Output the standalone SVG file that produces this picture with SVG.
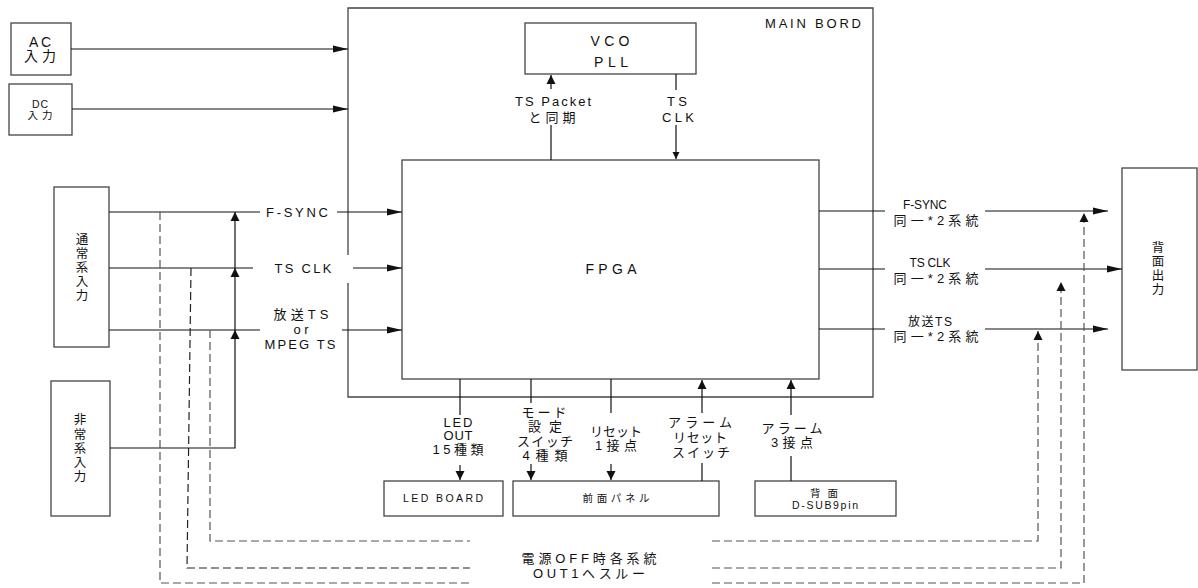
<svg xmlns="http://www.w3.org/2000/svg" width="1198" height="588" viewBox="0 0 1198 588">
<style>
text{font-family:"Liberation Sans","Noto Sans CJK JP",sans-serif;font-size:13px;fill:#111;text-anchor:middle;dominant-baseline:central}
.s{font-size:10.5px}
.m{font-size:14px}
.v{font-size:12.5px}
.r{font-size:12px}
.box{fill:#fff;stroke:#444;stroke-width:1.3}
.ln{fill:none;stroke:#111;stroke-width:1.2}
.ds{fill:none;stroke:#555;stroke-width:1.2;stroke-dasharray:8 4}
</style>
<defs>
<marker id="ah" markerUnits="userSpaceOnUse" markerWidth="15" markerHeight="8" refX="15" refY="4" orient="auto"><path d="M0,0.5 L15,4 L0,7.5 z" fill="#111"/></marker>
<marker id="av" markerUnits="userSpaceOnUse" markerWidth="10" markerHeight="10" refX="9" refY="5" orient="auto"><path d="M0,0.5 L9,5 L0,9.5 z" fill="#111"/></marker>
<marker id="as" markerUnits="userSpaceOnUse" markerWidth="8" markerHeight="8" refX="7" refY="4" orient="auto"><path d="M0,0.5 L7,4 L0,7.5 z" fill="#111"/></marker>
</defs>

<g id="main-board">
<path class="box" d="M348,255 V8 H873 V397 H348 V283" fill="#fff"/>
<text x="813" y="23" textLength="96" lengthAdjust="spacing">MAIN  BORD</text>
</g>

<g id="ac-input">
<rect class="box" x="11" y="23" width="60" height="52"/>
<text class="m" x="40" y="42" textLength="22" lengthAdjust="spacing">AC</text>
<text class="m" x="40" y="56" textLength="32" lengthAdjust="spacing">入力</text>
</g>
<g id="dc-input">
<rect class="box" x="9" y="84" width="63" height="51"/>
<text class="s" x="40" y="104" textLength="16" lengthAdjust="spacing">DC</text>
<text class="s" x="40" y="115" textLength="25" lengthAdjust="spacing">入力</text>
</g>

<g id="vco-pll">
<rect class="box" x="525" y="23" width="171" height="51"/>
<text class="m" x="610" y="41" textLength="39" lengthAdjust="spacing">VCO</text>
<text class="m" x="611" y="62" textLength="34" lengthAdjust="spacing">PLL</text>
</g>

<g id="fpga">
<rect class="box" x="402" y="160" width="417" height="219"/>
<text class="m" x="611" y="269" textLength="51" lengthAdjust="spacing">FPGA</text>
</g>

<g id="normal-input">
<rect class="box" x="54" y="187" width="55" height="160"/>
<text class="v" x="82" y="240">通</text>
<text class="v" x="82" y="254">常</text>
<text class="v" x="82" y="268">系</text>
<text class="v" x="82" y="282">入</text>
<text class="v" x="82" y="296">力</text>
</g>

<g id="emergency-input">
<rect class="box" x="51" y="381" width="59" height="135"/>
<text class="v" x="80" y="420">非</text>
<text class="v" x="80" y="435">常</text>
<text class="v" x="80" y="449">系</text>
<text class="v" x="80" y="463">入</text>
<text class="v" x="80" y="477">力</text>
</g>

<g id="rear-output">
<rect class="box" x="1122" y="168" width="75" height="202"/>
<text class="v" x="1158" y="248">背</text>
<text class="v" x="1158" y="262">面</text>
<text class="v" x="1158" y="276">出</text>
<text class="v" x="1158" y="290">力</text>
</g>

<g id="led-board">
<rect class="box" x="384" y="481" width="119" height="35"/>
<text class="s" x="443" y="498" textLength="80" lengthAdjust="spacing">LED  BOARD</text>
</g>
<g id="front-panel">
<rect class="box" x="513" y="481" width="206" height="35"/>
<text class="s" x="616" y="498" textLength="67" lengthAdjust="spacing">前面パネル</text>
</g>
<g id="rear-dsub">
<rect class="box" x="755" y="481" width="141" height="35"/>
<text class="s" x="824" y="493" textLength="28" lengthAdjust="spacing">背面</text>
<text class="s" x="825" y="505" textLength="66" lengthAdjust="spacing">D-SUB9pin</text>
</g>

<g id="connectors">
<line class="ln" x1="71" y1="49" x2="348" y2="49" marker-end="url(#ah)"/>
<line class="ln" x1="72" y1="109" x2="348" y2="109" marker-end="url(#ah)"/>
<line class="ln" x1="551" y1="160" x2="551" y2="125"/>
<line class="ln" x1="551" y1="89" x2="551" y2="75" marker-end="url(#av)"/>
<line class="ln" x1="676" y1="74" x2="676" y2="90"/>
<line class="ln" x1="676" y1="125" x2="676" y2="159" marker-end="url(#as)"/>
<line class="ln" x1="109" y1="212" x2="260" y2="212"/>
<line class="ln" x1="337" y1="212" x2="402" y2="212" marker-end="url(#ah)"/>
<line class="ln" x1="109" y1="268" x2="253" y2="268"/>
<line class="ln" x1="353" y1="268" x2="402" y2="268" marker-end="url(#ah)"/>
<line class="ln" x1="109" y1="330" x2="260" y2="330"/>
<line class="ln" x1="342" y1="330" x2="402" y2="330" marker-end="url(#ah)"/>
<polyline class="ln" points="110,448 235,448 235,330" marker-end="url(#av)"/>
<line class="ln" x1="235" y1="330" x2="235" y2="268" marker-end="url(#av)"/>
<line class="ln" x1="235" y1="268" x2="235" y2="212" marker-end="url(#av)"/>
<line class="ln" x1="819" y1="211" x2="885" y2="211"/>
<line class="ln" x1="985" y1="211" x2="1108" y2="211" marker-end="url(#ah)"/>
<line class="ln" x1="819" y1="269" x2="885" y2="269"/>
<line class="ln" x1="985" y1="269" x2="1122" y2="269" marker-end="url(#ah)"/>
<line class="ln" x1="819" y1="329" x2="885" y2="329"/>
<line class="ln" x1="985" y1="329" x2="1108" y2="329" marker-end="url(#ah)"/>
<line class="ln" x1="460" y1="379" x2="460" y2="415"/>
<line class="ln" x1="460" y1="465" x2="460" y2="480" marker-end="url(#av)"/>
<line class="ln" x1="531" y1="379" x2="531" y2="403"/>
<line class="ln" x1="531" y1="464" x2="531" y2="480" marker-end="url(#av)"/>
<line class="ln" x1="611" y1="379" x2="611" y2="413"/>
<line class="ln" x1="611" y1="464" x2="611" y2="480" marker-end="url(#av)"/>
<line class="ln" x1="702" y1="481" x2="702" y2="463"/>
<line class="ln" x1="702" y1="413" x2="702" y2="380" marker-end="url(#av)"/>
<line class="ln" x1="791" y1="481" x2="791" y2="456"/>
<line class="ln" x1="791" y1="415" x2="791" y2="380" marker-end="url(#av)"/>
<polyline class="ds" points="160,212 160,583 470,583"/>
<polyline class="ds" points="191,268 187,568 470,568" style="stroke:#222"/>
<polyline class="ds" points="210,330 210,541 470,541"/>
<polyline class="ds" points="712,541 1038,541 1038,331" marker-end="url(#av)"/>
<polyline class="ds" points="712,568 1061,568 1061,282" marker-end="url(#av)"/>
<polyline class="ds" points="712,583 1084,583 1084,213" marker-end="url(#av)"/>
</g>

<g id="labels">
<text x="553" y="101" textLength="76" lengthAdjust="spacing">TS Packet</text>
<text x="552" y="117" textLength="47" lengthAdjust="spacing">と同期</text>
<text x="677" y="101" textLength="20" lengthAdjust="spacing">TS</text>
<text x="678" y="117" textLength="32" lengthAdjust="spacing">CLK</text>
<text x="297" y="212" textLength="62" lengthAdjust="spacing">F-SYNC</text>
<text x="303" y="268" textLength="57" lengthAdjust="spacing">TS CLK</text>
<text x="301" y="314" textLength="55" lengthAdjust="spacing">放送TS</text>
<text x="301" y="329" textLength="15" lengthAdjust="spacing">or</text>
<text x="300" y="344" textLength="71" lengthAdjust="spacing">MPEG TS</text>
<text class="r" x="925" y="205" textLength="44" lengthAdjust="spacing">F-SYNC</text>
<text x="936" y="220" textLength="85" lengthAdjust="spacing">同一*2系統</text>
<text class="r" x="930" y="263" textLength="41" lengthAdjust="spacing">TS CLK</text>
<text x="936" y="278" textLength="85" lengthAdjust="spacing">同一*2系統</text>
<text class="r" x="930" y="322" textLength="44" lengthAdjust="spacing">放送TS</text>
<text x="936" y="336" textLength="85" lengthAdjust="spacing">同一*2系統</text>
<text x="458" y="422" textLength="29" lengthAdjust="spacing">LED</text>
<text x="458" y="435" textLength="29" lengthAdjust="spacing">OUT</text>
<text x="458" y="449" textLength="51" lengthAdjust="spacing">15種類</text>
<text x="544" y="412" textLength="45" lengthAdjust="spacing">モード</text>
<text x="545" y="426" textLength="34" lengthAdjust="spacing">設定</text>
<text x="545" y="441" textLength="56" lengthAdjust="spacing">スイッチ</text>
<text x="545" y="455" textLength="45" lengthAdjust="spacing">4種類</text>
<text x="616" y="431" textLength="52" lengthAdjust="spacing">リセット</text>
<text x="616" y="445" textLength="42" lengthAdjust="spacing">1接点</text>
<text x="700" y="422" textLength="64" lengthAdjust="spacing">アラーム</text>
<text x="700" y="437" textLength="54" lengthAdjust="spacing">リセット</text>
<text x="701" y="452" textLength="58" lengthAdjust="spacing">スイッチ</text>
<text x="792" y="428" textLength="61" lengthAdjust="spacing">アラーム</text>
<text x="792" y="442" textLength="42" lengthAdjust="spacing">3接点</text>
<text x="589" y="558" textLength="135" lengthAdjust="spacing">電源OFF時各系統</text>
<text x="589" y="573" textLength="112" lengthAdjust="spacing">OUT1へスルー</text>
</g>
</svg>
